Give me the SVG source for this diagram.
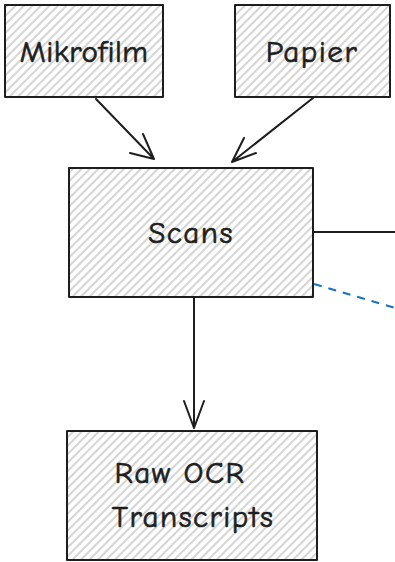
<svg xmlns="http://www.w3.org/2000/svg" width="395" height="562" viewBox="0 0 395 562">
  <defs>
    <pattern id="hatch" patternUnits="userSpaceOnUse" width="6" height="6" patternTransform="rotate(-45)">
      <line x1="0" y1="3" x2="6" y2="3" stroke="#b8b8b8" stroke-width="1.2"/>
    </pattern>
    <style>
      .box { fill: url(#hatch); stroke: #1e1e1e; stroke-width: 2; stroke-linejoin: round; }
      .lbl { font-family: "Comic Neue", "Noto Sans", "DejaVu Sans", sans-serif; font-size: 31px; font-weight: 400; stroke: #1e1e1e; stroke-width: 0.7px; letter-spacing: 1.5px; fill: #1e1e1e; text-anchor: middle; }
      .tight { letter-spacing: 0.5px; }
      .edge { fill: none; stroke: #1e1e1e; stroke-width: 2; stroke-linecap: round; stroke-linejoin: round; }
      .dash { fill: none; stroke: #1971c2; stroke-width: 2; stroke-dasharray: 8 7; }
    </style>
  </defs>
  <rect width="395" height="562" fill="#ffffff"/>

  <g id="node-mikrofilm">
    <rect class="box" x="5" y="5" width="158" height="92"/>
    <text class="lbl tight" x="84" y="62">Mikrofilm</text>
  </g>

  <g id="node-papier">
    <rect class="box" x="235" y="5" width="155" height="92"/>
    <text class="lbl" x="312" y="62">Papier</text>
  </g>

  <g id="node-scans">
    <rect class="box" x="69" y="168" width="244" height="129"/>
    <text class="lbl" x="191" y="243">Scans</text>
  </g>

  <g id="node-raw-ocr">
    <rect class="box" x="67" y="431" width="250" height="129"/>
    <text class="lbl" x="180" y="483">Raw OCR</text>
    <text class="lbl" x="193" y="527">Transcripts</text>
  </g>

  <g id="connectors">
    <!-- Mikrofilm to Scans -->
    <path class="edge" d="M96 99 L154 159 M130 153 L154 159 M143 134 L154 159"/>
    <!-- Papier to Scans -->
    <path class="edge" d="M313 98 L232 162 M256 153 L232 162 M244 138 L232 162"/>
    <!-- Scans to Raw OCR -->
    <path class="edge" d="M194 298 L194 428 M184 401 L194 428 M204 401 L194 428"/>
    <!-- outgoing line to the right -->
    <path class="edge" d="M314 232 L395 232"/>
    <!-- dashed link to the right -->
    <path class="dash" d="M314 284 L395 308"/>
  </g>
</svg>
